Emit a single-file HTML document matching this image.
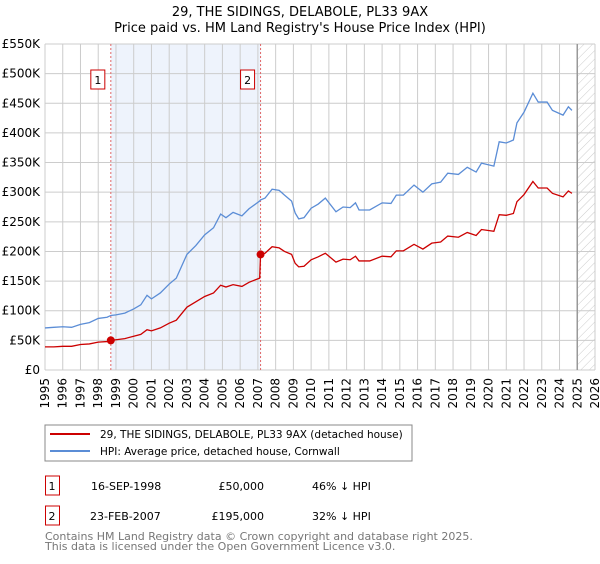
<!DOCTYPE html>
<html><head><meta charset="utf-8"><style>
body{margin:0;background:#fff;font-family:"DejaVu Sans","Liberation Sans",sans-serif;}
svg text{font-family:"DejaVu Sans","Liberation Sans",sans-serif;}
</style></head><body>
<svg id="c" width="600" height="560" xmlns="http://www.w3.org/2000/svg">
<defs><pattern id="hatch" width="6" height="6" patternUnits="userSpaceOnUse" patternTransform="rotate(45)"><line x1="0" y1="0" x2="0" y2="6" stroke="#ccc" stroke-width="1"/></pattern></defs>
<text x="300" y="16" text-anchor="middle" font-size="13">29, THE SIDINGS, DELABOLE, PL33 9AX</text>
<text x="300" y="32" text-anchor="middle" font-size="13">Price paid vs. HM Land Registry's House Price Index (HPI)</text>
<g id="plot"></g>
<rect x="45" y="425" width="367" height="36" fill="#fff" stroke="#888"/>
<line x1="50" y1="434" x2="90" y2="434" stroke="#cc0000" stroke-width="2"/>
<text x="100" y="438" font-size="10.5">29, THE SIDINGS, DELABOLE, PL33 9AX (detached house)</text>
<line x1="50" y1="451" x2="90" y2="451" stroke="#5b8dd6" stroke-width="2"/>
<text x="100" y="455" font-size="10.5">HPI: Average price, detached house, Cornwall</text>
<g font-size="11">
<rect x="45.5" y="476" width="14" height="19" fill="none" stroke="#cc0000"/>
<text x="52" y="490" text-anchor="middle">1</text>
<text x="91" y="490">16-SEP-1998</text>
<text x="264" y="490" text-anchor="end">£50,000</text>
<text x="312" y="490">46% ↓ HPI</text>
<rect x="45.5" y="506" width="14" height="19" fill="none" stroke="#cc0000"/>
<text x="52" y="520" text-anchor="middle">2</text>
<text x="90" y="520">23-FEB-2007</text>
<text x="264" y="520" text-anchor="end">£195,000</text>
<text x="312" y="520">32% ↓ HPI</text>
</g>
<text x="45" y="540" font-size="11" fill="#777">Contains HM Land Registry data © Crown copyright and database right 2025.</text>
<text x="45" y="550" font-size="11" fill="#777">This data is licensed under the Open Government Licence v3.0.</text>
</svg>
<script>
const years=[1995,1995.5,1996,1996.5,1997,1997.5,1998,1998.5,1998.71,1999,1999.5,2000,2000.4,2000.75,2001,2001.5,2002,2002.4,2003,2003.5,2004,2004.5,2004.9,2005.2,2005.6,2006.1,2006.5,2007.1,2007.15,2007.4,2007.8,2008.2,2008.5,2008.9,2009.1,2009.3,2009.6,2010,2010.4,2010.8,2011.4,2011.8,2012.2,2012.5,2012.7,2013.3,2014,2014.5,2014.8,2015.2,2015.8,2016.3,2016.8,2017.3,2017.7,2018.3,2018.8,2019.3,2019.6,2020.3,2020.6,2021,2021.4,2021.6,2022,2022.5,2022.8,2023.3,2023.6,2024.2,2024.5,2024.7];
const hpi=[71,72,73,72,77,80,87,89,92,93,96,103,110,126,120,130,145,155,195,210,228,240,263,257,266,260,272,285,287,290,305,303,295,285,265,255,257,273,280,290,267,275,274,282,270,270,282,281,295,295,312,300,314,317,332,330,342,334,349,344,385,383,388,417,435,467,452,452,438,430,444,438];
const price=[39,39,40,40,43,44,47,48,50,51,53,57,60,68,66,71,79,84,106,115,124,130,143,140,144,141,148,155,195,197,208,206,200,195,180,174,175,186,191,197,182,187,186,192,184,184,192,191,201,201,212,204,214,216,226,224,232,227,237,234,262,261,264,284,296,318,307,307,298,292,302,298];
const saleYears=[1998.71,2007.15];
const salePrices=[50,195];
const saleLabels=["1","2"];
const yTicks=[0,50,100,150,200,250,300,350,400,450,500,550];
const yTickLabels=["£0","£50K","£100K","£150K","£200K","£250K","£300K","£350K","£400K","£450K","£500K","£550K"];
const xTicks=[1995,1996,1997,1998,1999,2000,2001,2002,2003,2004,2005,2006,2007,2008,2009,2010,2011,2012,2013,2014,2015,2016,2017,2018,2019,2020,2021,2022,2023,2024,2025,2026];
const dataEnd=2025.0;

const L=45,R=595,T=44,B=370,X0=1995,X1=2026,YMAX=550;
const sx=v=>L+(v-X0)/(X1-X0)*(R-L);
const sy=v=>B-v/YMAX*(B-T);
const NS="http://www.w3.org/2000/svg";
const g=document.getElementById('plot');
function mk(tag,attrs,parent){const e=document.createElementNS(NS,tag);for(const k in attrs)e.setAttribute(k,attrs[k]);(parent||g).appendChild(e);return e;}

let e=mk('rect',{x:sx(saleYears[0]),y:T,width:sx(saleYears[1])-sx(saleYears[0]),height:B-T,fill:'#eef3fc'});


e=mk('rect',{x:sx(dataEnd),y:T,width:R-sx(dataEnd),height:B-T,fill:'url(#hatch)'});


yTicks.forEach((v,i)=>{
  let l=mk('line',{x1:L,x2:R,y1:sy(v),y2:sy(v),stroke:'#ccc','stroke-width':1});
  
  
  let t=mk('text',{x:L-5,y:sy(v)+4,'text-anchor':'end','font-size':12});
  t.textContent=yTickLabels[i];
  
  
});
xTicks.forEach(v=>{
  let l=mk('line',{x1:sx(v),x2:sx(v),y1:T,y2:B,stroke:'#ccc','stroke-width':1});
  
  
  let t=mk('text',{x:0,y:0,'text-anchor':'end','font-size':12,transform:`translate(${sx(v)+4},${B+8}) rotate(-90)`});
  t.textContent=v;
  
  
});
e=mk('line',{x1:sx(dataEnd),x2:sx(dataEnd),y1:T,y2:B,stroke:'#999','stroke-width':1.5});


saleYears.forEach((yr,i)=>{
  let l=mk('line',{x1:sx(yr),x2:sx(yr),y1:T,y2:B,stroke:'#e06666','stroke-width':1,'stroke-dasharray':'2,2'});
  
  
  let r=mk('rect',{x:sx(yr)-20,y:70,width:14,height:19,fill:'#fff',stroke:'#cc0000'});
  
  
  let t=mk('text',{x:sx(yr)-13,y:84,'text-anchor':'middle','font-size':11});
  t.textContent=saleLabels[i];
  
  
});
e=mk('polyline',{points:years.map((y,i)=>sx(y)+','+sy(hpi[i])).join(' '),fill:'none',stroke:'#5b8dd6','stroke-width':1.3});


e=mk('polyline',{points:years.map((y,i)=>sx(y)+','+sy(price[i])).join(' '),fill:'none',stroke:'#cc0000','stroke-width':1.3});


saleYears.forEach((yr,i)=>{
  let c=mk('circle',{cx:sx(yr),cy:sy(salePrices[i]),r:4,fill:'#cc0000'});
  
  
});
</script>
</body></html>
